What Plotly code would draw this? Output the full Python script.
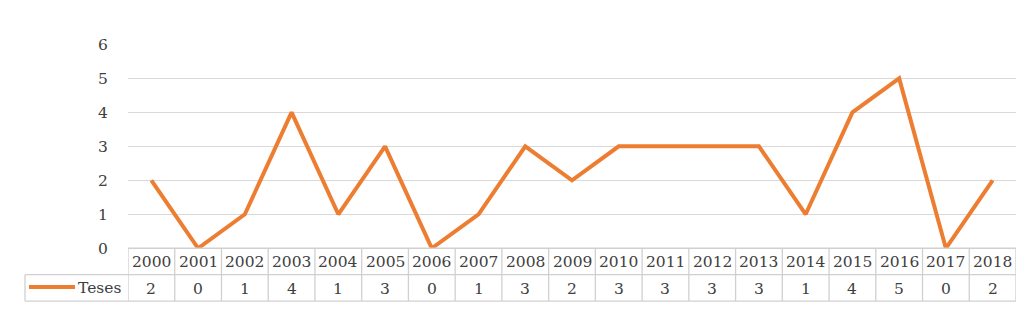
import plotly.graph_objects as go

years = ["2000", "2001", "2002", "2003", "2004", "2005", "2006", "2007", "2008", "2009",
         "2010", "2011", "2012", "2013", "2014", "2015", "2016", "2017", "2018"]
teses = [2, 0, 1, 4, 1, 3, 0, 1, 3, 2, 3, 3, 3, 3, 1, 4, 5, 0, 2]
series_name = "Teses"
y_ticks = [0, 1, 2, 3, 4, 5, 6]

W, H = 1032, 321
OFF = 8  # page body margin offsets the figure by 8px
ORANGE = "#ED7D31"
GRID = "#d9d9d9"
BORDER = "#d0d0d0"
FONT = "DejaVu Serif"
TXT = "#404040"
FS = 15.5

def py(y):
    return (H - (y - OFF)) / H

def px(x):
    return (x - OFF) / W

plot_left, plot_right = 128, 1016
plot_top, plot_bottom = 37, 253
row1_bottom, row2_bottom = 281, 309
legend_left = 25

n = len(years)
xs = list(range(n))

fig = go.Figure()
fig.add_trace(go.Scatter(
    x=xs, y=teses, mode="lines", name=series_name,
    line=dict(color=ORANGE, width=4), cliponaxis=False, showlegend=False,
))

shapes = []
shapes.append(dict(type="line", xref="paper", yref="paper", x0=px(plot_left), x1=px(plot_right),
                   y0=py(plot_bottom), y1=py(plot_bottom), line=dict(color=BORDER, width=1.3)))
for yy in (row1_bottom, row2_bottom):
    shapes.append(dict(type="line", xref="paper", yref="paper", x0=px(legend_left), x1=px(plot_right),
                       y0=py(yy), y1=py(yy), line=dict(color=BORDER, width=1.3)))
for i in range(n + 1):
    shapes.append(dict(type="line", xref="x", yref="paper", x0=i - 0.5, x1=i - 0.5,
                       y0=py(plot_bottom), y1=py(row2_bottom), line=dict(color=BORDER, width=1.3)))
shapes.append(dict(type="line", xref="paper", yref="paper", x0=px(legend_left), x1=px(legend_left),
                   y0=py(row1_bottom), y1=py(row2_bottom), line=dict(color=BORDER, width=1.3)))
shapes.append(dict(type="line", xref="paper", yref="paper", x0=px(29), x1=px(75),
                   y0=py(294), y1=py(294), line=dict(color=ORANGE, width=4)))

annotations = []
for i, (yr, v) in enumerate(zip(years, teses)):
    annotations.append(dict(x=i, y=py((plot_bottom + row1_bottom) / 2 + 1), xref="x", yref="paper",
                            text=yr, showarrow=False, font=dict(family=FONT, size=FS, color=TXT),
                            xanchor="center", yanchor="middle"))
    annotations.append(dict(x=i, y=py((row1_bottom + row2_bottom) / 2 + 1), xref="x", yref="paper",
                            text=str(v), showarrow=False, font=dict(family=FONT, size=FS, color=TXT),
                            xanchor="center", yanchor="middle"))
annotations.append(dict(x=px(123), y=py((row1_bottom + row2_bottom) / 2), xref="paper", yref="paper",
                        text=series_name, showarrow=False, font=dict(family=FONT, size=FS, color=TXT),
                        xanchor="right", yanchor="middle"))

fig.update_layout(
    width=W, height=H,
    margin=dict(l=0, r=0, t=0, b=0),
    paper_bgcolor="white", plot_bgcolor="white",
    xaxis=dict(domain=[px(plot_left), px(plot_right)], range=[-0.5, n - 0.5],
               visible=False, fixedrange=True),
    yaxis=dict(domain=[py(plot_bottom), py(plot_top)], range=[0, 6],
               tickvals=y_ticks, ticktext=[str(t) for t in y_ticks],
               showgrid=True, gridcolor=GRID, gridwidth=1.3, zeroline=False,
               showline=False, ticks="outside", ticklen=16, tickcolor="rgba(0,0,0,0)",
               tickfont=dict(family=FONT, size=FS, color=TXT), fixedrange=True),
    shapes=shapes,
    annotations=annotations,
    showlegend=False,
)

fig.write_html("out.html")
